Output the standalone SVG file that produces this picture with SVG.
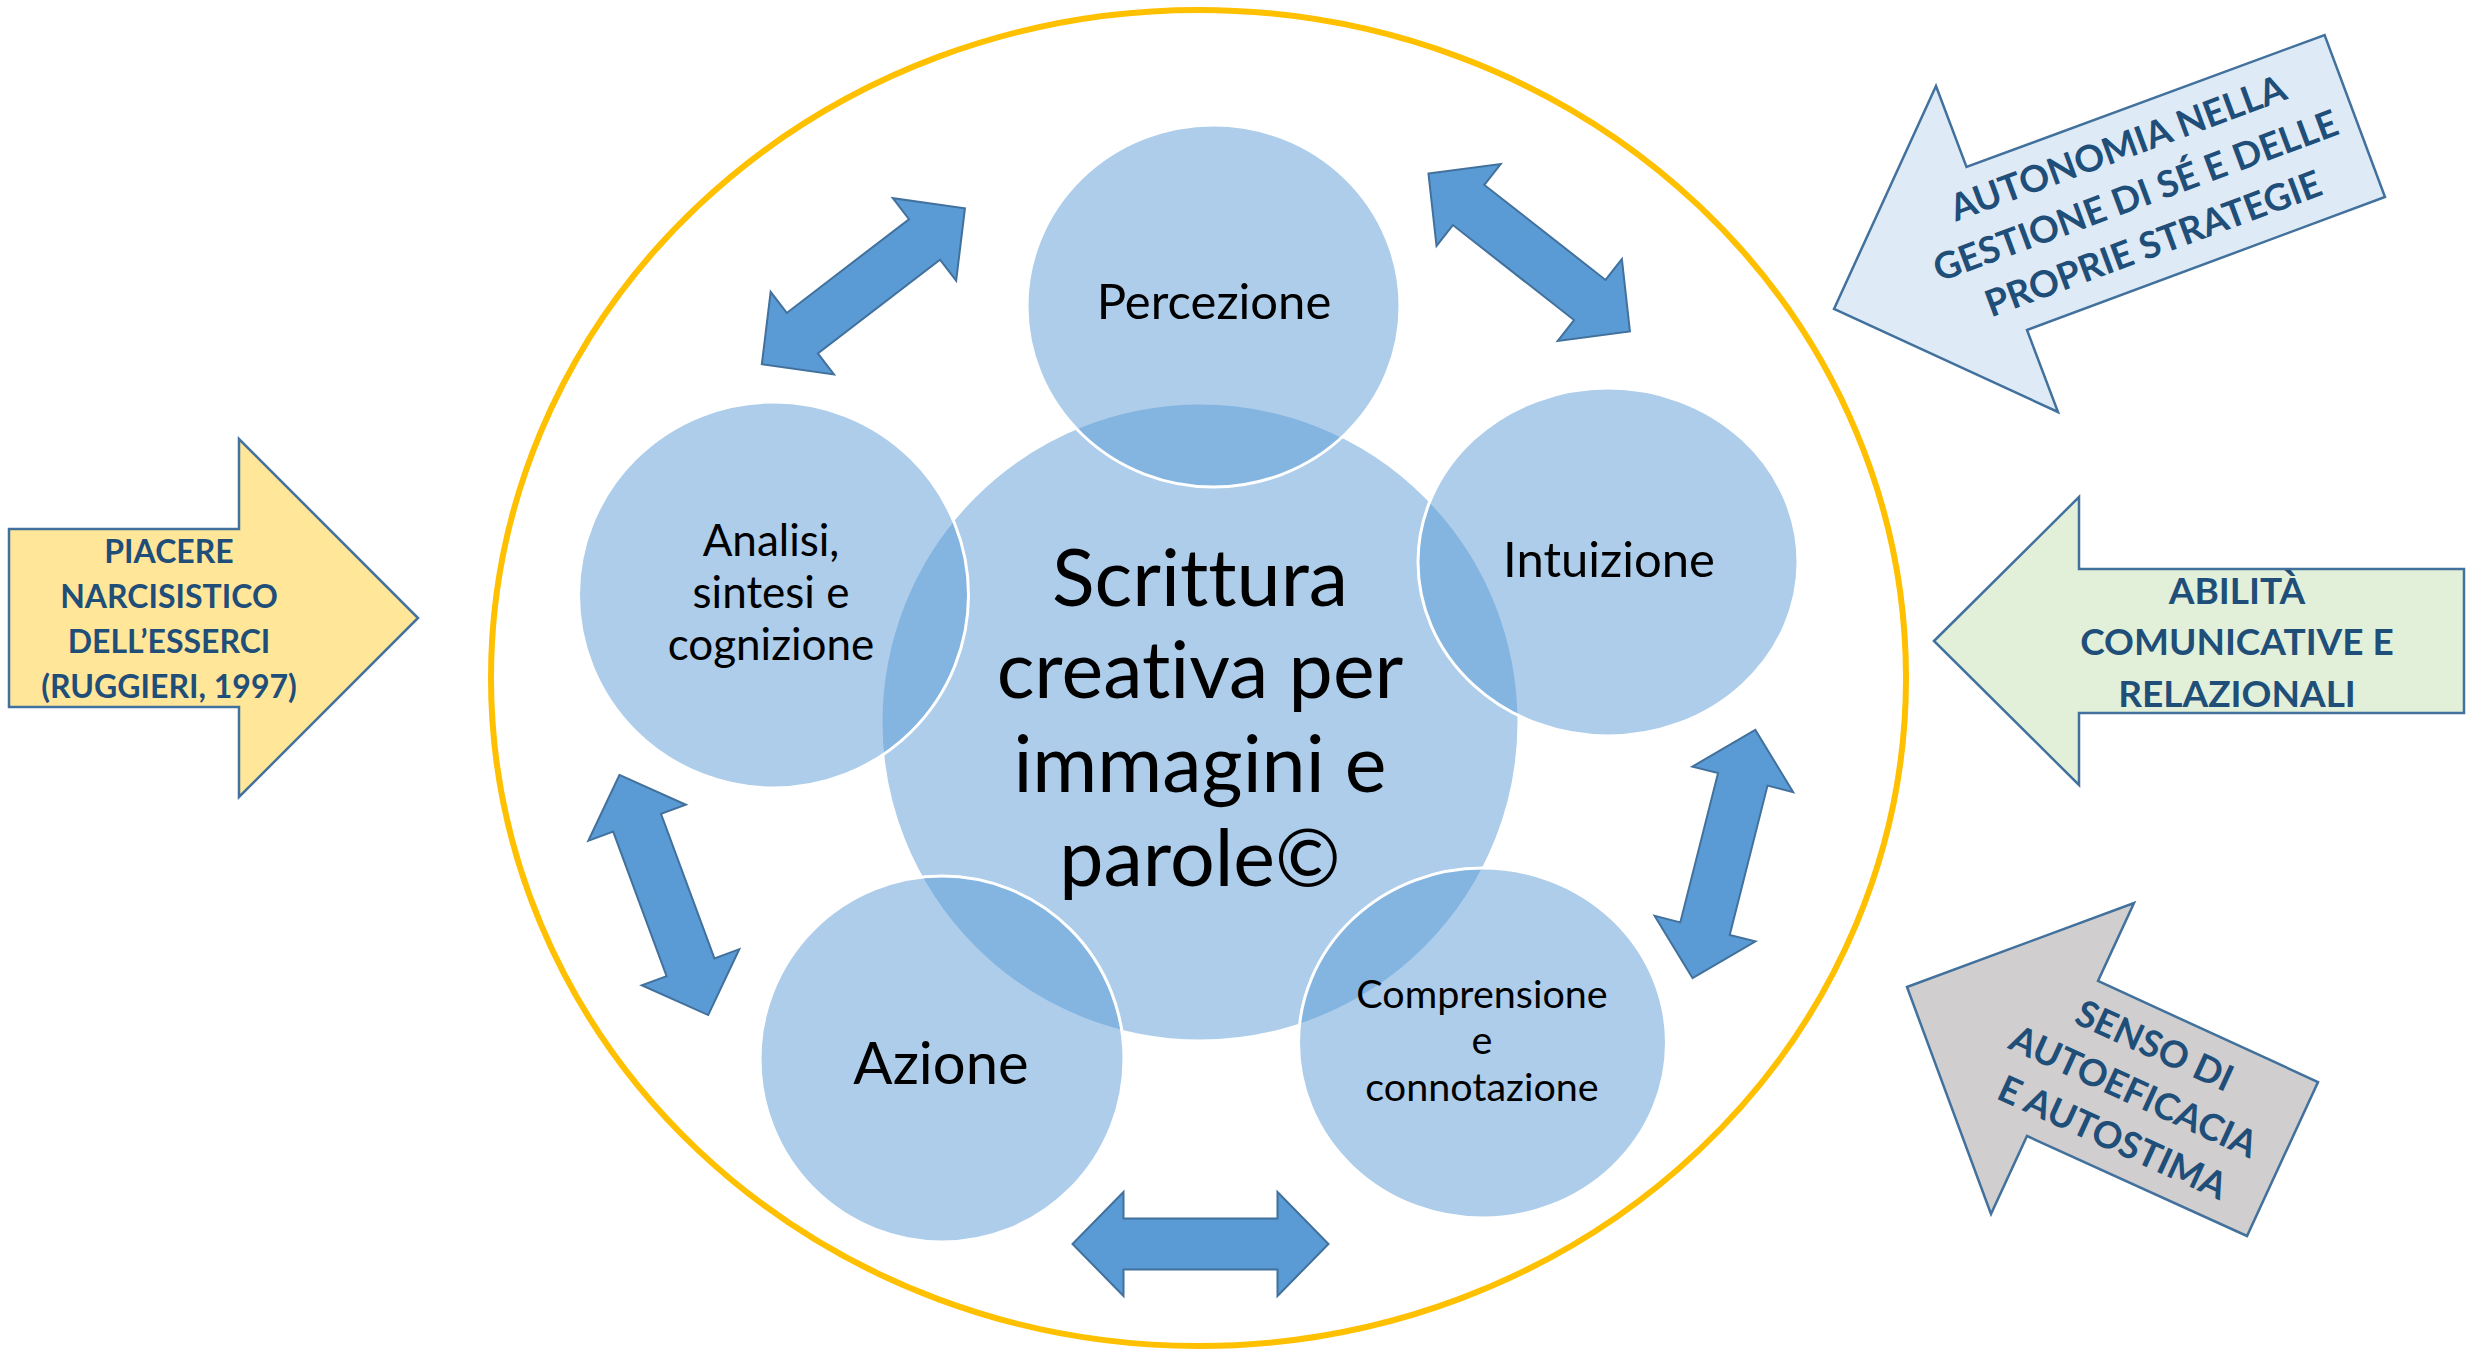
<svg xmlns="http://www.w3.org/2000/svg" width="2466" height="1351" viewBox="0 0 2466 1351">
<style>
  .frame { fill: none; stroke: #FFC000; stroke-width: 6; }
  .bubble { fill: #5B9BD5; fill-opacity: 0.5; stroke: #FFFFFF; stroke-width: 3; }
  .t { font-family: Lato, "Liberation Sans", sans-serif; fill: #000000; text-anchor: middle; font-variant-ligatures: none; }
  .bt { font-family: Lato, "Liberation Sans", sans-serif; font-weight: 700; fill: #1F4E79; text-anchor: middle; font-size: 37px; font-variant-ligatures: none; }
  .dbl { fill: #5B9BD5; stroke: #41719C; stroke-width: 2; stroke-linejoin: miter; }
  .big { stroke: #41719C; stroke-width: 2.5; stroke-linejoin: miter; }
</style>
<defs>
  <path id="dblArrow" d="M -128 0 L -77 -52 L -77 -25.5 L 77 -25.5 L 77 -52 L 128 0 L 77 52 L 77 25.5 L -77 25.5 L -77 52 Z"/>
</defs>
<rect x="0" y="0" width="2466" height="1351" fill="#FFFFFF"/>

<g id="frame">
  <ellipse class="frame" cx="1198.5" cy="678" rx="707.5" ry="668"/>
</g>

<g id="connectors">
  <use href="#dblArrow" class="dbl" transform="translate(863.4 286.3) rotate(-37.5)"/>
  <use href="#dblArrow" class="dbl" transform="translate(1529.2 252.5) rotate(38.1)"/>
  <use href="#dblArrow" class="dbl" transform="translate(1723.9 854) rotate(-75.8)"/>
  <use href="#dblArrow" class="dbl" transform="translate(1200.5 1244)"/>
  <use href="#dblArrow" class="dbl" transform="translate(663.8 895) rotate(69.7)"/>
</g>

<g id="node-center">
  <circle class="bubble" cx="1200" cy="722" r="319"/>
  <text class="t" font-size="79"><tspan x="1200" y="606">Scrittura</tspan><tspan x="1200" y="698">creativa per</tspan><tspan x="1200" y="792">immagini e</tspan><tspan x="1200" y="886">parole©</tspan></text>
</g>

<g id="node-percezione">
  <ellipse class="bubble" cx="1213.5" cy="306" rx="186.5" ry="181"/>
  <text class="t" font-size="49" x="1214" y="319">Percezione</text>
</g>

<g id="node-intuizione">
  <ellipse class="bubble" cx="1608" cy="562" rx="190" ry="174"/>
  <text class="t" font-size="49" x="1609" y="577">Intuizione</text>
</g>

<g id="node-analisi">
  <ellipse class="bubble" cx="773.5" cy="595" rx="195" ry="193"/>
  <text class="t" font-size="44"><tspan x="771" y="556">Analisi,</tspan><tspan x="771" y="608">sintesi e</tspan><tspan x="771" y="660">cognizione</tspan></text>
</g>

<g id="node-azione">
  <ellipse class="bubble" cx="942" cy="1059" rx="182" ry="183"/>
  <text class="t" font-size="58" x="941" y="1084">Azione</text>
</g>

<g id="node-comprensione">
  <ellipse class="bubble" cx="1482.5" cy="1043" rx="184" ry="175"/>
  <text class="t" font-size="39.5"><tspan x="1482" y="1008">Comprensione</tspan><tspan x="1482" y="1054">e</tspan><tspan x="1482" y="1101">connotazione</tspan></text>
</g>

<g id="arrow-piacere">
  <polygon class="big" fill="#FFE699" points="9,529 239,529 239,439 418,618 239,797 239,707 9,707"/>
  <text class="bt" style="font-size:32px"><tspan x="169" y="563">PIACERE</tspan><tspan x="169" y="608">NARCISISTICO</tspan><tspan x="169" y="653">DELL’ESSERCI</tspan><tspan x="169" y="698">(RUGGIERI, 1997)</tspan></text>
</g>

<g id="arrow-autonomia">
  <polygon class="big" fill="#DEEBF7" points="1834,309 1936,86 1966.5,167 2324.6,35 2385,197 2027,330 2058,412"/>
  <g transform="translate(2140 208) rotate(-20.3)">
    <text class="bt"><tspan x="0" y="-51">AUTONOMIA NELLA</tspan><tspan x="0" y="0">GESTIONE DI SÉ E DELLE</tspan><tspan x="0" y="51">PROPRIE STRATEGIE</tspan></text>
  </g>
</g>

<g id="arrow-abilita">
  <polygon class="big" fill="#E2F0D9" points="1934,641 2079,497 2079,569 2464,569 2464,713 2079,713 2079,785"/>
  <text class="bt"><tspan x="2237" y="604">ABILITÀ</tspan><tspan x="2237" y="655">COMUNICATIVE E</tspan><tspan x="2237" y="707">RELAZIONALI</tspan></text>
</g>

<g id="arrow-senso">
  <polygon class="big" fill="#D0CECE" points="1907,987 2134,903 2098,981 2318,1082 2247,1236 2027,1136 1991,1214"/>
  <g transform="translate(2128.3 1103.3) rotate(24.5)">
    <text class="bt"><tspan x="0" y="-50.5">SENSO DI</tspan><tspan x="0" y="0">AUTOEFICACIA</tspan><tspan x="0" y="50.5">E AUTOSTIMA</tspan></text>
  </g>
</g>
</svg>
